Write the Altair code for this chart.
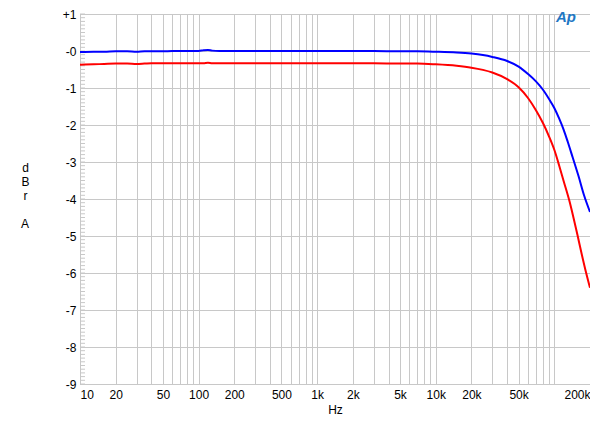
import altair as alt
import pandas as pd

# Frequencies (Hz) and levels (dBr A)
blue_freq = [10, 13, 16, 20, 25, 30, 35, 40, 50, 60,
             80, 100, 110, 120, 130, 150, 200, 300, 500, 1000,
             2000, 3000, 5000, 7000, 10000, 15000, 20000, 25000, 30000, 40000,
             50000, 60000, 70000, 80000, 90000, 100000, 110000, 120000, 130000, 143000,
             160000, 179000, 200000]
blue_db = [-0.03, -0.02, -0.02, -0.01, -0.01, -0.02, -0.01, -0.01, -0.01, 0.0,
           0.0, 0.0, 0.02, 0.03, 0.01, 0.0, 0.0, 0.0, 0.0, 0.0,
           0.0, 0.0, -0.01, -0.01, -0.02, -0.04, -0.07, -0.11, -0.16, -0.27,
           -0.42, -0.62, -0.82, -1.04, -1.29, -1.54, -1.83, -2.13, -2.46, -2.88,
           -3.38, -3.92, -4.35]

red_freq = [10, 13, 16, 20, 25, 30, 35, 40, 50, 60,
            80, 100, 110, 120, 130, 150, 200, 300, 500, 1000,
            2000, 3000, 5000, 7000, 10000, 15000, 20000, 25000, 30000, 40000,
            50000, 60000, 70000, 80000, 90000, 100000, 110000, 120000, 134000, 145000,
            157000, 170000, 185000, 200000]
red_db = [-0.37, -0.36, -0.35, -0.34, -0.34, -0.35, -0.34, -0.33, -0.33, -0.33,
          -0.33, -0.33, -0.33, -0.32, -0.33, -0.33, -0.33, -0.33, -0.33, -0.33,
          -0.33, -0.33, -0.34, -0.34, -0.36, -0.40, -0.45, -0.51, -0.58, -0.76,
          -0.98, -1.27, -1.60, -1.94, -2.30, -2.67, -3.10, -3.52, -4.05, -4.50,
          -4.98, -5.48, -5.98, -6.40]

x_grid = sorted(set(m * 10 ** e for e in range(1, 6) for m in range(1, 10)) | {100000, 200000})
x_grid = [v for v in x_grid if 10 <= v <= 200000]
x_labeled = [10, 20, 50, 100, 200, 500, 1000, 2000, 5000, 10000, 20000, 50000, 200000]
y_ticks = list(range(-9, 2))
y_minor = [round(-9 + 0.1 * i, 1) for i in range(0, 101)]
y_title_top = ["d", "B", "r"]
y_title_bottom = ["A"]

df = pd.DataFrame({
    "freq": blue_freq + red_freq,
    "db": blue_db + red_db,
    "ch": ["L"] * len(blue_freq) + ["R"] * len(red_freq),
})

FONT = "Liberation Sans"
label_list = "[" + ",".join(str(v) for v in x_labeled) + "]"

x_axis = alt.Axis(
    values=x_grid,
    labelExpr=f"indexof({label_list}, datum.value) >= 0 ? (datum.value >= 1000 ? (datum.value/1000) + 'k' : '' + datum.value) : ''",
    labelOverlap=False,
    ticks=False,
    domain=False,
    grid=True,
    gridColor="#c8c8c8",
    labelFont=FONT,
    labelFontSize=12,
    labelColor="#000000",
    labelPadding=5,
    title="Hz",
    titleFont=FONT,
    titleFontSize=12,
    titleFontWeight="normal",
    titleColor="#000000",
    titlePadding=4,
)

y_axis = alt.Axis(
    values=y_ticks,
    labelExpr="datum.value > 0 ? '+' + datum.value : '-' + abs(datum.value)",
    ticks=False,
    domain=False,
    grid=True,
    gridColor="#c8c8c8",
    labelFont=FONT,
    labelFontSize=12,
    labelColor="#000000",
    labelPadding=4,
    title=y_title_top,
    titleFont=FONT,
    titleFontSize=12,
    titleFontWeight="normal",
    titleColor="#000000",
    titleAngle=0,
    titleAlign="center",
    titleBaseline="top",
    titleX=-55,
    titleY=148,
    titleLineHeight=14,
)

x_scale = alt.Scale(type="log", domain=[10, 200000], nice=False)
y_scale = alt.Scale(domain=[-9, 1], nice=False)

minor = alt.Chart(pd.DataFrame({"db": y_minor})).mark_rule(color="#c8c8c8", strokeWidth=1).encode(
    y=alt.Y("db:Q", scale=y_scale, axis=y_axis),
    x=alt.value(0),
    x2=alt.value(5),
)

lines = alt.Chart(df).mark_line(strokeWidth=2, clip=True, interpolate="monotone").encode(
    x=alt.X("freq:Q", scale=x_scale, axis=x_axis),
    y=alt.Y("db:Q", scale=y_scale, axis=y_axis),
    color=alt.Color("ch:N", scale=alt.Scale(domain=["L", "R"], range=["#0000ff", "#ff0000"]), legend=None),
    order=alt.Order("freq:Q"),
)

title_a = alt.Chart(pd.DataFrame({"t": y_title_bottom})).mark_text(
    font=FONT, fontSize=12, color="#000000", align="center", baseline="middle"
).encode(
    text="t:N",
    x=alt.value(-55),
    y=alt.value(210),
)

logo = alt.Chart(pd.DataFrame({"t": ["Ap"]})).mark_text(
    font=FONT, fontSize=15, fontStyle="italic", fontWeight="bold", color="#2277c4", align="center", baseline="middle"
).encode(
    text="t:N",
    x=alt.value(486),
    y=alt.value(3),
)

chart = alt.layer(minor, lines, title_a, logo).properties(
    width=510,
    height=370,
    autosize=alt.AutoSizeParams(type="none"),
    padding={"left": 72, "top": 6, "right": 0, "bottom": 35},
).configure_view(stroke="#a8a8a8", strokeWidth=1)

chart.save("out.html", embed_options={"renderer": "svg", "actions": False})
